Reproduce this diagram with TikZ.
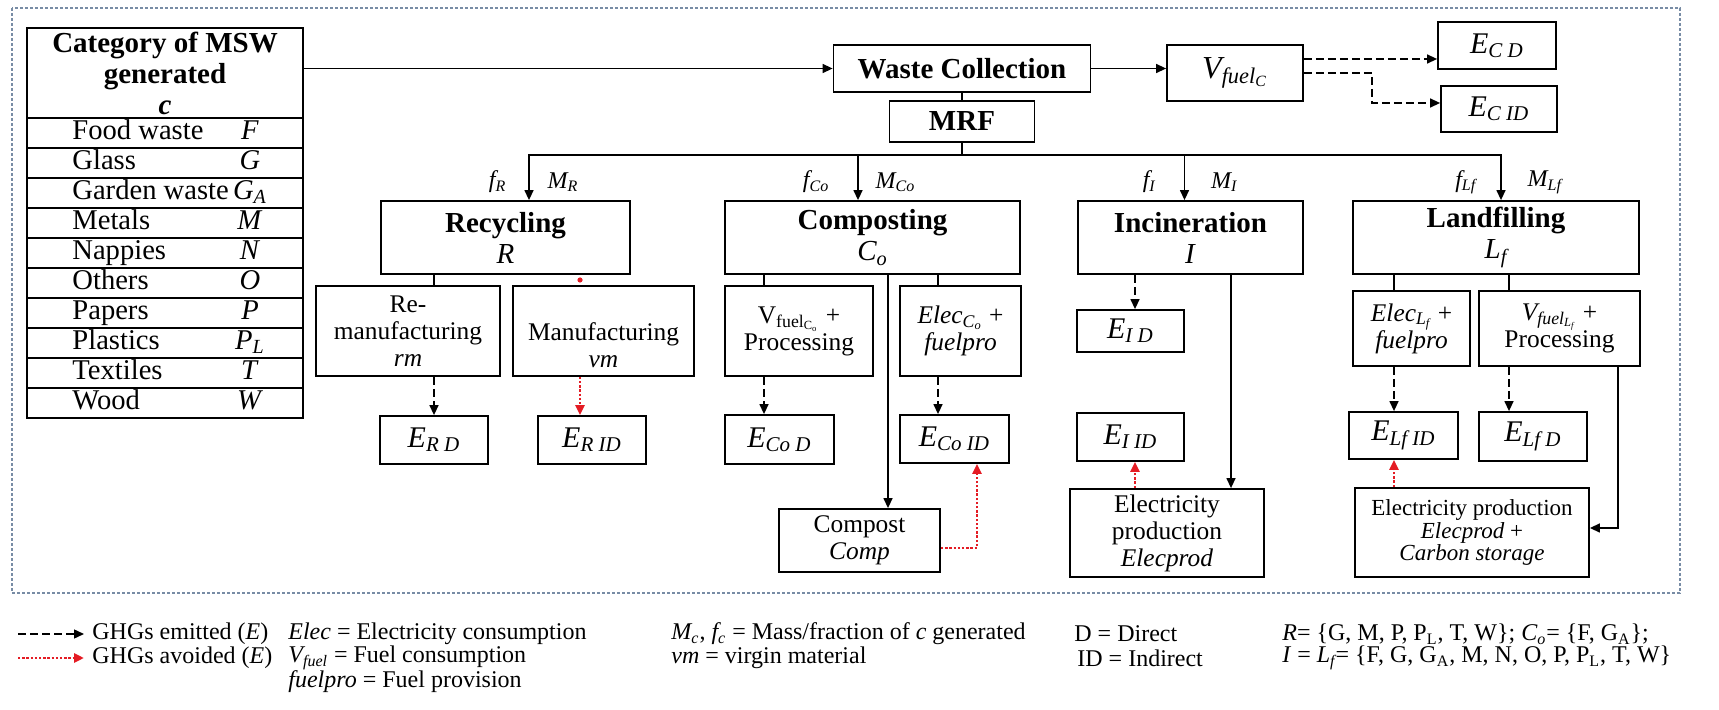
\documentclass[tikz,border=0pt]{standalone}
\usepackage{fontspec}
\setmainfont{Liberation Serif}
\usetikzlibrary{arrows.meta}
\definecolor{avred}{RGB}{228,28,36}
\definecolor{frm}{RGB}{120,140,165}
\newcommand{\sbs}[1]{\textsubscript{#1}}
\tikzset{
  bx/.style 2 args={draw, line width=0.9pt, align=center, inner sep=1pt,
    minimum width={#1*0.5pt}, minimum height={#2*0.5pt}},
  hd/.style={font=\fontsize{14.5}{15.5}\selectfont},
  tb/.style={font=\fontsize{14.3}{15}\selectfont, inner sep=0pt, text height=9.5pt, text depth=3pt},
  tx/.style={font=\fontsize{12.7}{13.5}\selectfont},
  ts/.style={font=\fontsize{11.5}{11.3}\selectfont},
  el/.style={font=\fontsize{15}{16}\selectfont},
  lb/.style={font=\fontsize{12}{13}\selectfont\itshape, inner sep=0pt},
  lg/.style={font=\fontsize{12}{13}\selectfont, anchor=west, inner sep=0pt},
  ln/.style={line width=0.7pt},
  flow/.style={ln, -{Triangle[length=5pt,width=4.5pt]}},
  ghg/.style={flow, dash pattern=on 4pt off 2pt},
  avd/.style={line width=1.3pt, avred, dash pattern=on 1.2pt off 0.9pt,
    -{Triangle[length=5pt,width=4.5pt]}},
}
\begin{document}
\begin{tikzpicture}[x=0.5pt,y=-0.5pt]
  \useasboundingbox (0,0) rectangle (1719,710);
  \draw[frm, line width=0.6pt, dash pattern=on 1.5pt off 1pt] (12,8) rectangle (1680,593);

  \node[bx={276}{90}, hd] (cat) at (165,73) {\textbf{Category of MSW}\\\textbf{generated}\\\textbf{\textit{c}}};
  \foreach \nm/\sy [count=\i] in {Food waste/F, Glass/G, Garden waste/G\sbs{A}, Metals/M,
      Nappies/N, Others/O, Papers/P, Plastics/P\sbs{L}, Textiles/T, Wood/W} {
    \node[bx={276}{30}] (row\i) at (165,{103+30*\i}) {};
    \node[tb, anchor=west] (rn\i) at (72,{103+30*\i}) {\nm};
    \node[tb] (rs\i) at (250,{103+30*\i}) {\textit{\sy}};
  }

  \node[bx={257}{47}, hd] (wc) at (962,68.5) {\textbf{Waste Collection}};
  \node[bx={145}{41}, hd] (mrf) at (962,121.5) {\textbf{MRF}};
  \node[bx={136}{56}, font=\fontsize{16}{17}\selectfont] (vfc) at (1235,73) {\textit{V\sbs{fuel\sbs{C}}}};
  \node[bx={118}{47}, el] (ecd) at (1497,45.5) {\textit{E\sbs{C D}}};
  \node[bx={116}{46}, el] (ecid) at (1499,109) {\textit{E\sbs{C ID}}};

  \node[bx={249}{73}, hd] (rec) at (505.5,237.5) {\textbf{Recycling}\\\textit{R}};
  \node[bx={295}{73}, hd] (com) at (872.5,237.5) {\textbf{Composting}\\\textit{C\sbs{o}}};
  \node[bx={225}{73}, hd] (inc) at (1190.5,237.5) {\textbf{Incineration}\\\textit{I}};
  \node[bx={286}{73}, hd] (lnd) at (1496,237.5) {\textbf{Landfilling}\\\textit{L\sbs{f}}};

  \node[bx={184}{90}, tx] (rman) at (408,331) {Re-\\manufacturing\\\textit{rm}};
  \node[bx={181}{90}, tx] (man) at (603.5,331) {\strut\\Manufacturing\\\textit{vm}};
  \node[bx={108}{48}, el] (erd) at (434,440) {\textit{E\sbs{R D}}};
  \node[bx={108}{48}, el] (erid) at (592,440) {\textit{E\sbs{R ID}}};

  \node[bx={148}{90}, tx] (vco) at (799,331) {V\sbs{fuel\sbs{C\sbs{o}}} +\\Processing};
  \node[bx={121}{90}, tx] (eco) at (960.5,331) {\textit{Elec\sbs{C\sbs{o}}} +\\\textit{fuelpro}};
  \node[bx={109}{49}, el] (ecod) at (779.5,439.5) {\textit{E\sbs{Co D}}};
  \node[bx={109}{48}, el] (ecoid) at (954.5,439) {\textit{E\sbs{Co ID}}};
  \node[bx={161}{63}, tx] (cmp) at (859.5,540.5) {Compost\\\textit{Comp}};

  \node[bx={107}{42}, el] (eid) at (1130.5,331) {\textit{E\sbs{I D}}};
  \node[bx={107}{48}, el] (eiid) at (1130.5,437) {\textit{E\sbs{I ID}}};
  \node[bx={194}{88}, tx] (epi) at (1167,533) {Electricity\\production\\\textit{Elecprod}};

  \node[bx={117}{75}, tx] (elf) at (1411.5,328.5) {\textit{Elec\sbs{L\sbs{f}}} +\\\textit{fuelpro}};
  \node[bx={161}{75}, tx] (vlf) at (1559.5,328.5) {\textit{V\sbs{fuel\sbs{L\sbs{f}}}} +\\Processing};
  \node[bx={109}{47}, el] (elfid) at (1403.5,435.5) {\textit{E\sbs{Lf ID}}};
  \node[bx={108}{49}, el] (elfd) at (1533,436.5) {\textit{E\sbs{Lf D}}};
  \node[bx={234}{89}, ts] (epl) at (1472,532.5) {Electricity production\\\textit{Elecprod} +\\\textit{Carbon storage}};

  \coordinate (bus) at (962,155);
  \coordinate (rx) at (529,0);
  \coordinate (cx) at (858,0);
  \coordinate (ix) at (1184.5,0);
  \coordinate (lx) at (1501,0);
  \coordinate (mx) at (580,0);
  \coordinate (cx1) at (764,0);
  \coordinate (cx2) at (938,0);
  \coordinate (cx3) at (888,0);
  \coordinate (cx4) at (977,0);
  \coordinate (ix1) at (1135,0);
  \coordinate (ix2) at (1231,0);
  \coordinate (lx1) at (1394,0);
  \coordinate (lx2) at (1509,0);
  \coordinate (lx3) at (1618,0);
  \coordinate (cbend) at (1372,0);
  \coordinate (eci) at ([yshift=3pt]ecid.west);
  \coordinate (ecu) at ([yshift=7pt]vfc.east);

  \draw[flow] (cat.east |- wc.west) -- (wc.west);
  \draw[flow] (wc.east) -- (wc.east -| vfc.west);
  \draw[ghg] (ecu) -- (ecu -| ecd.west);
  \draw[ghg] (vfc.east) -| (cbend |- eci) -- (eci);
  \draw[ln] (wc.south) -- (mrf.north);
  \draw[ln] (mrf.south) -- (bus);
  \draw[flow] (bus) -| (rx |- rec.north) node[lb, pos=0.8, left=11pt] {f\sbs{R}} node[lb, pos=0.8, right=9pt] {M\sbs{R}};
  \draw[flow] (bus) -| (cx |- com.north) node[lb, pos=0.8, left=14pt] {f\sbs{Co}} node[lb, pos=0.8, right=8.5pt] {M\sbs{Co}};
  \draw[flow] (bus) -| (ix |- inc.north) node[lb, pos=0.8, left=14pt] {f\sbs{I}} node[lb, pos=0.8, right=13pt] {M\sbs{I}};
  \draw[flow] (bus) -| (lx |- lnd.north) node[lb, pos=0.8, left=12pt] {f\sbs{Lf}} node[lb, pos=0.8, right=13pt] {M\sbs{Lf}};

  \draw[ln] (erd |- rec.south) -- (erd |- rman.north);
  \draw[ghg] (erd |- rman.south) -- (erd.north);
  \fill[avred] (580,280) circle (1.3pt);
  \draw[avd] (mx |- man.south) -- (mx |- erid.north);

  \draw[ln] (cx1 |- com.south) -- (cx1 |- vco.north);
  \draw[ghg] (cx1 |- vco.south) -- (cx1 |- ecod.north);
  \draw[ln] (cx2 |- com.south) -- (cx2 |- eco.north);
  \draw[ghg] (cx2 |- eco.south) -- (cx2 |- ecoid.north);
  \draw[flow] (cx3 |- com.south) -- (cx3 |- cmp.north);
  \draw[avd] ([yshift=-3.75pt]cmp.east) -| (cx4 |- ecoid.south);

  \draw[ghg] (ix1 |- inc.south) -- (ix1 |- eid.north);
  \draw[flow] (ix2 |- inc.south) -- (ix2 |- epi.north);
  \draw[avd] (ix1 |- epi.north) -- (ix1 |- eiid.south);

  \draw[ln] (lx1 |- lnd.south) -- (lx1 |- elf.north);
  \draw[ghg] (lx1 |- elf.south) -- (lx1 |- elfid.north);
  \draw[avd] (lx1 |- epl.north) -- (lx1 |- elfid.south);
  \draw[ln] (lx2 |- lnd.south) -- (lx2 |- vlf.north);
  \draw[ghg] (lx2 |- vlf.south) -- (lx2 |- elfd.north);
  \draw[flow] (lx3 |- vlf.south) |- ([yshift=2.25pt]epl.east);

  \coordinate (k1) at (18,634);
  \coordinate (k2) at (84,634);
  \coordinate (k3) at (18,658);
  \coordinate (k4) at (84,658);
  \draw[ghg] (k1) -- (k2);
  \draw[avd] (k3) -- (k4);
  \node[lg] (g1) at (92,634) {GHGs emitted (\textit{E})};
  \node[lg] (g2) at (92,658) {GHGs avoided (\textit{E})};
  \node[lg] (g3) at (288,634) {\textit{Elec} = Electricity consumption};
  \node[lg] (g4) at (288,658) {\textit{V\sbs{fuel}} = Fuel consumption};
  \node[lg] (g5) at (288,682) {\textit{fuelpro} = Fuel provision};
  \node[lg] (g6) at (671,634) {\textit{M\sbs{c}}, \textit{f\sbs{c}} = Mass/fraction of \textit{c} generated};
  \node[lg] (g7) at (671,658) {\textit{vm} = virgin material};
  \node[lg] (g8) at (1074,634) {D = Direct};
  \node[lg] (g9) at (1077,658) {ID = Indirect};
  \node[lg] (g10) at (1282,634) {\textit{R}= \{G, M, P, P\sbs{L}, T, W\}; \textit{C\sbs{o}}= \{F, G\sbs{A}\};};
  \node[lg] (g11) at (1282,658) {\textit{I} = \textit{L\sbs{f}}= \{F, G, G\sbs{A}, M, N, O, P, P\sbs{L}, T, W\}};
\end{tikzpicture}
\end{document}
